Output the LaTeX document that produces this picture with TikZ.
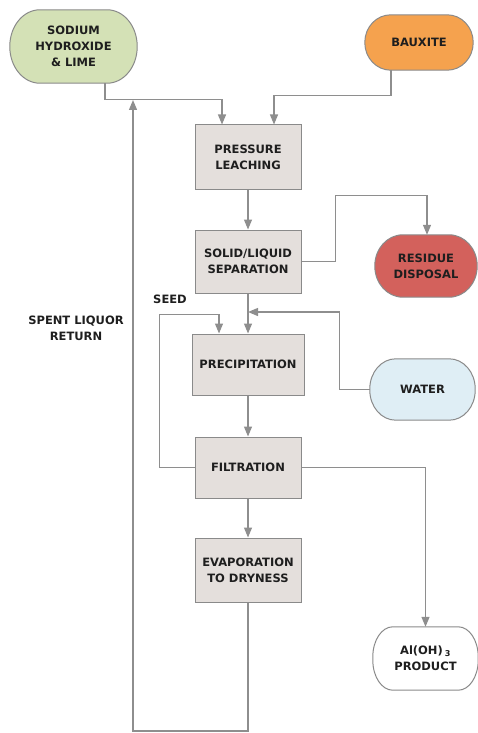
\documentclass[tikz,border=0pt]{standalone}
\usepackage{fontspec}
\setmainfont{DejaVu Sans}
\usetikzlibrary{arrows.meta,backgrounds}
\definecolor{lineg}{HTML}{8E8E8E}
\definecolor{boxfill}{HTML}{E4DFDC}
\definecolor{boxdraw}{HTML}{8A8A8A}
\definecolor{greenf}{HTML}{D4E1B6}
\definecolor{orangef}{HTML}{F5A24E}
\definecolor{redf}{HTML}{D3615C}
\definecolor{bluef}{HTML}{DFEEF5}
\definecolor{txt}{HTML}{1E1E1E}
% #1 node name, #2 x radius, #3 y radius, #4 fill colour
\newcommand\ovalshape[4]{%
  \draw[draw=boxdraw, line width=1pt, fill=#4]
    ([xshift=#2]#1.north west) -- ([xshift=-#2]#1.north east)
    arc[start angle=90, end angle=0, x radius=#2, y radius=#3]
    -- ([yshift=#3]#1.south east)
    arc[start angle=0, end angle=-90, x radius=#2, y radius=#3]
    -- ([xshift=#2]#1.south west)
    arc[start angle=-90, end angle=-180, x radius=#2, y radius=#3]
    -- ([yshift=-#3]#1.north west)
    arc[start angle=180, end angle=90, x radius=#2, y radius=#3]
    -- cycle;}
\begin{document}
\begin{tikzpicture}[x=1pt,y=-1pt,
  every node/.style={font=\bfseries\fontsize{11.5}{16}\selectfont, text=txt, align=center, inner sep=0pt},
  procbox/.style={draw=boxdraw, fill=boxfill, line width=1pt, minimum width=106pt, minimum height=63pt},
  pill/.style={rectangle},
  flow/.style={draw=lineg, line width=1.2pt, -{Triangle[width=8pt,length=10pt]}}]
\useasboundingbox (0,0) rectangle (478,733);
% sources / sinks
\node[pill, minimum width=127pt, minimum height=73pt] (sodium) at (73.5,46.5) {SODIUM\\HYDROXIDE\\\& LIME};
\node[pill, minimum width=108pt, minimum height=55pt] (bauxite) at (419,42.5) {BAUXITE};
\node[pill, minimum width=102pt, minimum height=62pt] (residue) at (426,266) {RESIDUE\\DISPOSAL};
\node[pill, minimum width=105pt, minimum height=61pt] (water) at (422.5,389.5) {WATER};
\node[pill, minimum width=105pt, minimum height=63pt] (product) at (425.5,658.5) {Al(OH)\,\textsubscript{3}\\PRODUCT};
\begin{scope}[on background layer]
  \ovalshape{sodium}{30pt}{36.5pt}{greenf}
  \ovalshape{bauxite}{26pt}{27.5pt}{orangef}
  \ovalshape{residue}{28pt}{31pt}{redf}
  \ovalshape{water}{26pt}{30pt}{bluef}
  \ovalshape{product}{20pt}{30pt}{white}
\end{scope}
% process boxes
\node[procbox, minimum height=64pt] (press) at (248,157) {PRESSURE\\LEACHING};
\node[procbox] (solid) at (248,261.5) {SOLID/LIQUID\\SEPARATION};
\node[procbox, minimum width=112pt, minimum height=61pt] (prec) at (248,364.5) {PRECIPITATION};
\node[procbox, minimum height=61pt] (filt) at (248,467.5) {FILTRATION};
\node[procbox, minimum height=64pt] (evap) at (248,570) {EVAPORATION\\TO DRYNESS};
% labels
\node (seed) at (170,299) {SEED};
\node (spent) at (76,328) {SPENT LIQUOR\\RETURN};
% coordinates
\coordinate (wj) at (248,312);
\coordinate (retcorner) at (133,731);
\coordinate (rettop) at (133,100);
% connectors
\draw[flow] ([xshift=31.5pt]sodium.south) |- ([xshift=-26pt,yshift=25pt]press.north) -- ([xshift=-26pt]press.north);
\draw[flow] ([xshift=-28pt]bauxite.south) |- ([xshift=26pt,yshift=29pt]press.north) -- ([xshift=26pt]press.north);
\draw[flow] (press) -- (solid);
\draw[flow] (solid.east) -- ++(34,0) |- ([xshift=1pt,yshift=39pt]residue.north) -- ([xshift=1pt]residue.north);
\draw[flow] (solid) -- (prec);
\draw[flow] (water.west) -- ++(-30,0) |- (wj);
\draw[flow] (filt.west) -- ++(-35,0) |- ([xshift=-29pt,yshift=19pt]prec.north) -- ([xshift=-29pt]prec.north);
\draw[flow] (prec) -- (filt);
\draw[flow] (filt.east) -| (product.north);
\draw[flow] (filt) -- (evap);
\draw[flow] (evap.south) |- (retcorner) -- (rettop);
\end{tikzpicture}
\end{document}
